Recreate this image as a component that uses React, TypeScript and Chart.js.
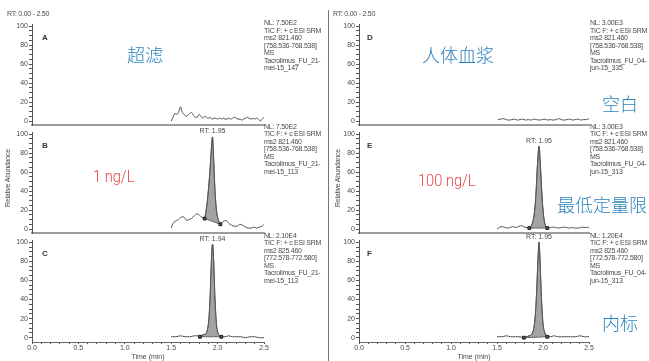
import React, { useEffect, useRef } from 'react';
import { Chart, registerables } from 'chart.js';

Chart.register(...registerables);

const SMALL_FONT = '"Liberation Sans Narrow", "Liberation Sans", Arial, sans-serif';
const CJK_FONT = '"Noto Sans CJK SC", "Noto Sans", sans-serif';
const LABEL_FONT = 'Roboto, "Noto Sans", sans-serif';

// ---- chromatogram traces: retention time (min) and relative abundance (%) ----
const timeA = [1.5, 1.52, 1.54, 1.56, 1.58, 1.6, 1.62, 1.64, 1.66, 1.68, 1.7, 1.72, 1.74, 1.76, 1.78, 1.8, 1.82, 1.84, 1.86, 1.88, 1.9, 1.92, 1.94, 1.96, 1.98, 2.0, 2.02, 2.04, 2.06, 2.08, 2.1, 2.12, 2.14, 2.16, 2.18, 2.2, 2.22, 2.24, 2.26, 2.28, 2.3, 2.32, 2.34, 2.36, 2.38, 2.4, 2.42, 2.44, 2.46, 2.48, 2.5];
const abundanceA = [0, 4, 8, 7, 9, 15, 9, 7, 5, 6, 8, 9, 6, 4, 4, 7, 5, 3, 5, 4, 3, 4, 2, 3, 3, 2, 3, 2, 3, 2, 2, 3, 2, 3, 4, 3, 2, 2, 1, 2, 3, 4, 3, 2, 3, 2, 3, 2, 0, 2, 4];

const timeB = [1.5, 1.52, 1.54, 1.56, 1.58, 1.6, 1.63, 1.65, 1.67, 1.69, 1.72, 1.75, 1.775, 1.8, 1.82, 1.84, 1.86, 1.88, 1.9, 1.915, 1.93, 1.945, 1.955, 1.965, 1.975, 1.99, 2.01, 2.03, 2.06, 2.09, 2.12, 2.15, 2.18, 2.21, 2.24, 2.27, 2.3, 2.33, 2.36, 2.39, 2.42, 2.45, 2.48, 2.5];
const abundanceB = [1, 6, 8, 9, 10, 12, 13, 11, 9, 10, 11, 14, 16, 15, 13, 12, 11, 22, 40, 58, 80, 97, 80, 55, 35, 18, 9, 5, 8, 9, 6, 4, 3, 3, 5, 4, 2, 1, 1, 2, 1, 2, 3, 5];

const timeC = [1.5, 1.55, 1.6, 1.65, 1.7, 1.75, 1.78, 1.81, 1.84, 1.87, 1.89, 1.9, 1.91, 1.92, 1.93, 1.94, 1.945, 1.95, 1.96, 1.97, 1.98, 1.99, 2.0, 2.02, 2.04, 2.08, 2.12, 2.16, 2.2, 2.25, 2.3, 2.35, 2.4, 2.45, 2.5];
const abundanceC = [1, 1, 2, 1, 1, 2, 2, 1, 3, 4, 8, 14, 25, 45, 72, 94, 98, 95, 75, 45, 25, 12, 6, 2, 1, 1, 2, 1, 1, 1, 0, 1, 1, 0, 0];

const timeD = [1.51, 1.54, 1.57, 1.6, 1.63, 1.66, 1.69, 1.72, 1.75, 1.78, 1.81, 1.84, 1.87, 1.9, 1.93, 1.96, 1.99, 2.02, 2.05, 2.08, 2.11, 2.14, 2.17, 2.2, 2.23, 2.26, 2.29, 2.32, 2.35, 2.38, 2.41, 2.44, 2.47, 2.5];
const abundanceD = [1.5, 2, 2.5, 1.5, 1, 1.5, 2, 1, 1.5, 2, 1, 1.5, 1, 2, 1.5, 1, 1.5, 2, 1, 1.5, 1, 1.5, 2.5, 1.5, 1, 1.5, 2, 1, 1.5, 2, 1, 1.5, 1.5, 2.5];

const timeE = [1.5, 1.53, 1.56, 1.59, 1.62, 1.65, 1.68, 1.71, 1.74, 1.77, 1.8, 1.83, 1.851, 1.87, 1.89, 1.91, 1.925, 1.94, 1.957, 1.97, 1.985, 2.0, 2.015, 2.03, 2.047, 2.08, 2.11, 2.14, 2.17, 2.2, 2.23, 2.26, 2.29, 2.32, 2.35, 2.38, 2.41, 2.44, 2.47, 2.5];
const abundanceE = [0, 2, 2.5, 1.5, 1, 2, 2.5, 1.5, 3, 3.5, 2, 1.5, 1, 3, 8, 20, 40, 68, 87, 70, 42, 20, 8, 3, 1, 1.5, 2, 1.5, 1, 1.5, 2, 1.5, 1, 1.5, 1, 1, 1.5, 2, 1.5, 2];

const timeF = [1.5, 1.55, 1.6, 1.65, 1.7, 1.75, 1.793, 1.82, 1.85, 1.88, 1.9, 1.915, 1.93, 1.945, 1.957, 1.965, 1.975, 1.985, 2.0, 2.02, 2.047, 2.08, 2.12, 2.16, 2.2, 2.25, 2.3, 2.35, 2.4, 2.45, 2.5];
const abundanceF = [1, 1, 2, 1, 1, 1, 0, 1, 2, 4, 10, 22, 46, 82, 100, 88, 62, 38, 15, 5, 1, 1, 2, 1, 1, 1, 1, 1, 2, 1, 1];

// integration windows (start / end retention time of the shaded peak)
const peakWindowB = [1.86, 2.03];
const peakWindowC = [1.81, 2.04];
const peakWindowE = [1.851, 2.047];
const peakWindowF = [1.793, 2.047];

const rtLabelB = 'RT: 1.95';
const rtLabelC = 'RT: 1.94';
const rtLabelE = 'RT: 1.95';
const rtLabelF = 'RT: 1.95';

// axis labels
const abundanceTickLabels = ['0', '20', '40', '60', '80', '100'];
const timeTickLabels = ['0.0', '0.5', '1.0', '1.5', '2.0', '2.5'];

// scan header text for each trace
const infoA = ['NL: 7.50E2', 'TIC F: + c ESI SRM', 'ms2 821.460', '[758.536-768.538]', 'MS', 'Tacrolimus_FU_21-', 'mei-15_147'];
const infoB = ['NL: 7.50E2', 'TIC F: + c ESI SRM', 'ms2 821.460', '[758.536-768.538]', 'MS', 'Tacrolimus_FU_21-', 'mei-15_113'];
const infoC = ['NL: 2.10E4', 'TIC F: + c ESI SRM', 'ms2 825.460', '[772.578-772.580]', 'MS', 'Tacrolimus_FU_21-', 'mei-15_113'];
const infoD = ['NL: 3.00E3', 'TIC F: + c ESI SRM', 'ms2 821.460', '[758.536-768.538]', 'MS', 'Tacrolimus_FU_04-', 'jun-15_335'];
const infoE = ['NL: 3.00E3', 'TIC F: + c ESI SRM', 'ms2 821.460', '[758.536-768.538]', 'MS', 'Tacrolimus_FU_04-', 'jun-15_313'];
const infoF = ['NL: 1.20E4', 'TIC F: + c ESI SRM', 'ms2 825.460', '[772.578-772.580]', 'MS', 'Tacrolimus_FU_04-', 'jun-15_313'];

type PanelDef = {
  letter: string;
  time: number[];
  abundance: number[];
  window?: number[];
  rtLabel?: string;
  info: string[];
  col: number;
  row: number;
};

const panels: PanelDef[] = [
  { letter: 'A', time: timeA, abundance: abundanceA, info: infoA, col: 0, row: 0 },
  { letter: 'B', time: timeB, abundance: abundanceB, window: peakWindowB, rtLabel: rtLabelB, info: infoB, col: 0, row: 1 },
  { letter: 'C', time: timeC, abundance: abundanceC, window: peakWindowC, rtLabel: rtLabelC, info: infoC, col: 0, row: 2 },
  { letter: 'D', time: timeD, abundance: abundanceD, info: infoD, col: 1, row: 0 },
  { letter: 'E', time: timeE, abundance: abundanceE, window: peakWindowE, rtLabel: rtLabelE, info: infoE, col: 1, row: 1 },
  { letter: 'F', time: timeF, abundance: abundanceF, window: peakWindowF, rtLabel: rtLabelF, info: infoF, col: 1, row: 2 },
];

// page layout of the two columns and three rows of plots
const COLS = [
  { canvasLeft: 0, plotLeft: 32, plotRight: 264, infoLeft: 264, letterLeft: 42 },
  { canvasLeft: 327, plotLeft: 359, plotRight: 589, infoLeft: 590, letterLeft: 367 },
];
const ROWS = [
  { plotTop: 24.6, plotBottom: 125.3, infoTop: 19, letterTop: 38 },
  { plotTop: 132.6, plotBottom: 233.3, infoTop: 122.5, letterTop: 146 },
  { plotTop: 240.8, plotBottom: 342, infoTop: 231.5, letterTop: 254 },
];

const TRACE = '#555';
const PEAK_FILL = '#a3a3a3';
const TEXT = '#4a4a4a';

const rtLabelPlugin = {
  id: 'rtLabel',
  afterDatasetsDraw(chart: any, _args: any, opts: any) {
    if (!opts || !opts.text) return;
    const data = chart.data.datasets[0].data as { x: number; y: number }[];
    let best = 0;
    data.forEach((p, i) => {
      if (p.y > data[best].y) best = i;
    });
    const x = chart.scales.x.getPixelForValue(data[best].x);
    const y = chart.scales.y.getPixelForValue(data[best].y);
    const ctx = chart.ctx;
    ctx.save();
    ctx.font = `7px ${SMALL_FONT}`;
    ctx.fillStyle = TEXT;
    ctx.textAlign = 'center';
    ctx.textBaseline = 'bottom';
    ctx.fillText(opts.text, x, y - 2);
    ctx.restore();
  },
};

function labelFor(list: string[], value: number) {
  const hit = list.find((l) => Math.abs(Number(l) - value) < 1e-6);
  return hit ?? '';
}

function ChromPanel({ def }: { def: PanelDef }) {
  const ref = useRef<HTMLCanvasElement>(null);
  const col = COLS[def.col];
  const row = ROWS[def.row];
  const bottomAxis = def.row === 2;
  const canvasTop = Math.floor(row.plotTop) - 8;
  const canvasBottom = bottomAxis ? 361 : Math.ceil(row.plotBottom) + 6;
  const xAxisH = bottomAxis ? 19 : 2;
  const width = col.plotRight + 16 - col.canvasLeft;
  const height = canvasBottom - canvasTop;

  useEffect(() => {
    if (!ref.current) return;
    const points = def.time.map((t, i) => ({ x: t, y: def.abundance[i] }));
    const datasets: any[] = [
      {
        data: points,
        borderColor: TRACE,
        borderWidth: 1,
        pointRadius: 0,
        fill: false,
        cubicInterpolationMode: 'monotone',
        order: 1,
      },
    ];
    if (def.window) {
      const [t0, t1] = def.window;
      const peakPts = points.filter((p) => p.x >= t0 - 1e-9 && p.x <= t1 + 1e-9);
      const ends = [peakPts[0], peakPts[peakPts.length - 1]];
      datasets.push({
        data: peakPts,
        borderColor: '#666',
        borderWidth: 1,
        pointRadius: 0,
        backgroundColor: PEAK_FILL,
        fill: '+1',
        cubicInterpolationMode: 'monotone',
        order: 2,
      });
      datasets.push({
        data: ends,
        borderColor: '#666',
        borderWidth: 1,
        pointRadius: 2,
        pointStyle: 'rect',
        pointBackgroundColor: '#555',
        pointBorderColor: '#222',
        pointBorderWidth: 1,
        fill: false,
        order: 0,
      });
    }

    const yTickValues: number[] = [];
    for (let v = 0; v <= 100; v += 5) yTickValues.push(v);
    const xTickValues: number[] = [];
    for (let i = 0; i <= 25; i++) xTickValues.push(i / 10);

    const chart = new Chart(ref.current, {
      type: 'line',
      data: { datasets },
      plugins: [rtLabelPlugin],
      options: {
        animation: false,
        responsive: false,
        events: [],
        layout: {
          padding: {
            left: 0,
            right: 16,
            top: row.plotTop - canvasTop,
            bottom: canvasBottom - row.plotBottom - xAxisH,
          },
        },
        plugins: {
          legend: { display: false },
          tooltip: { enabled: false },
          rtLabel: { text: def.rtLabel ?? '' },
        } as any,
        scales: {
          x: {
            type: 'linear',
            min: 0,
            max: 2.5,
            afterBuildTicks: (axis: any) => {
              axis.ticks = xTickValues.map((v) => ({ value: v }));
            },
            afterFit: (axis: any) => {
              axis.height = xAxisH;
            },
            grid: {
              display: bottomAxis,
              drawOnChartArea: false,
              drawTicks: bottomAxis,
              tickLength: 2,
              tickColor: '#555',
              tickWidth: 1,
            },
            border: bottomAxis
              ? { display: true, color: '#666', width: 1 }
              : { display: true, color: '#9c9c9c', width: 2 },
            ticks: {
              display: bottomAxis,
              autoSkip: false,
              maxRotation: 0,
              padding: 0,
              color: TEXT,
              font: { size: 7, family: SMALL_FONT },
              callback: (v: any) => labelFor(timeTickLabels, Number(v)),
            },
            title: {
              display: bottomAxis,
              text: 'Time (min)',
              color: TEXT,
              padding: 0,
              font: { size: 7, family: SMALL_FONT },
            },
          },
          y: {
            type: 'linear',
            min: -4.5,
            max: 101.5,
            afterBuildTicks: (axis: any) => {
              axis.ticks = yTickValues.map((v) => ({ value: v }));
            },
            afterFit: (axis: any) => {
              axis.width = col.plotLeft - col.canvasLeft;
            },
            grid: {
              display: true,
              drawOnChartArea: false,
              drawTicks: true,
              tickLength: 3,
              tickColor: '#555',
              tickWidth: 1,
            },
            border: { display: true, color: '#555', width: 1 },
            ticks: {
              autoSkip: false,
              padding: 1,
              color: TEXT,
              font: { size: 7, family: SMALL_FONT },
              callback: (v: any) => labelFor(abundanceTickLabels, Number(v)),
            },
          },
        },
      } as any,
    });
    return () => chart.destroy();
  }, []);

  return (
    <canvas
      ref={ref}
      width={width}
      height={height}
      style={{ position: 'absolute', left: col.canvasLeft, top: canvasTop, width, height }}
    />
  );
}

const small: React.CSSProperties = {
  position: 'absolute',
  fontFamily: SMALL_FONT,
  fontSize: 7,
  color: TEXT,
  whiteSpace: 'pre',
  lineHeight: '7.5px',
  letterSpacing: '-0.25px',
};

function Caption({ text, left, cy, size, color, font, weight, squeeze }: { text: string; left: number; cy: number; size: number; color: string; font: string; weight?: number; squeeze?: number }) {
  return (
    <div
      style={{
        position: 'absolute',
        left,
        top: cy,
        transform: `translateY(-50%) scaleX(${squeeze ?? 1})`,
        transformOrigin: 'left center',
        fontFamily: font,
        fontSize: size,
        fontWeight: weight ?? 400,
        color,
        whiteSpace: 'pre',
        lineHeight: 1,
      }}
    >
      {text}
    </div>
  );
}

const BLUE = '#2b83bd';
const RED = '#e5474a';

export default function App() {
  return (
    <div
      style={{
        position: 'fixed',
        left: 0,
        top: 0,
        width: 649,
        height: 361,
        overflow: 'hidden',
        background: '#fff',
      }}
    >
      {panels.map((p) => (
        <ChromPanel key={p.letter} def={p} />
      ))}

      {/* column divider */}
      <div style={{ position: 'absolute', left: 328, top: 10, width: 1, height: 351, background: '#777' }} />

      <div style={{ ...small, left: 7, top: 10 }}>RT: 0.00 - 2.50</div>
      <div style={{ ...small, left: 333, top: 10 }}>RT: 0.00 - 2.50</div>

      <div style={{ ...small, left: 7.5, top: 178, transform: 'translate(-50%, -50%) rotate(-90deg)' }}>Relative Abundance</div>
      <div style={{ ...small, left: 338, top: 178, transform: 'translate(-50%, -50%) rotate(-90deg)' }}>Relative Abundance</div>

      {panels.map((p) => {
        const col = COLS[p.col];
        const row = ROWS[p.row];
        return (
          <React.Fragment key={'t' + p.letter}>
            <div
              style={{
                position: 'absolute',
                left: col.letterLeft,
                top: row.letterTop,
                transform: 'translateY(-50%)',
                fontFamily: '"Liberation Sans", Arial, sans-serif',
                fontWeight: 700,
                fontSize: 8,
                color: '#333',
                lineHeight: 1,
              }}
            >
              {p.letter}
            </div>
            <div style={{ ...small, left: col.infoLeft, top: row.infoTop }}>
              {p.info.map((line) => (
                <div key={line}>{line}</div>
              ))}
            </div>
          </React.Fragment>
        );
      })}

      <Caption text="超滤" left={127} cy={53.5} size={18} color={BLUE} font={CJK_FONT} weight={300} />
      <Caption text="人体血浆" left={422} cy={53.5} size={18} color={BLUE} font={CJK_FONT} weight={300} />
      <Caption text="空白" left={602} cy={103} size={18} color={BLUE} font={CJK_FONT} weight={300} />
      <Caption text="最低定量限" left={557} cy={203.5} size={18} color={BLUE} font={CJK_FONT} weight={300} />
      <Caption text="内标" left={602} cy={321.5} size={18} color={BLUE} font={CJK_FONT} weight={300} />
      <Caption text="1 ng/L" left={93} cy={175.5} size={17} color={RED} font={LABEL_FONT} weight={300} squeeze={0.86} />
      <Caption text="100 ng/L" left={418} cy={179.5} size={17} color={RED} font={LABEL_FONT} weight={300} squeeze={0.86} />
    </div>
  );
}
